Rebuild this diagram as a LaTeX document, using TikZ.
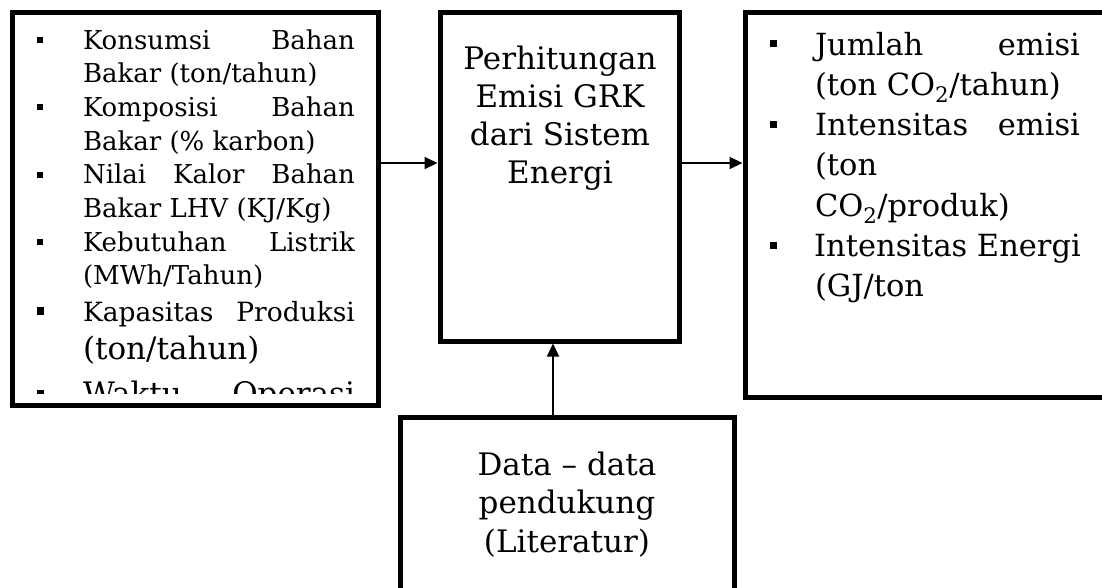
\documentclass[tikz,border=0pt]{standalone}
\usepackage{fontspec}
\setmainfont{DejaVu Serif}
\usetikzlibrary{arrows.meta}
\newlength{\twL}\setlength{\twL}{272pt}
\newlength{\twR}\setlength{\twR}{265pt}
\newcommand{\Bu}[3]{\leavevmode\llap{\raisebox{#2}{\rule{#1}{#1}}\hspace*{#3}}}
\newcommand{\fs}[2]{\fontsize{#1}{#2}\selectfont\spaceskip=0pt\xspaceskip=0pt\relax}
\begin{document}
\begin{tikzpicture}[x=1pt,y=-1pt,
  box/.style={draw=black, line width=5pt, inner sep=0pt, fill=white},
  txt/.style={inner sep=0pt, outer sep=0pt, align=left},
  ctxt/.style={inner sep=0pt, outer sep=0pt, align=center},
  arr/.style={line width=2pt, -{Triangle[length=13pt,width=12pt]}}]
\useasboundingbox (0,0) rectangle (1102,587);
\node[box, minimum width=366pt, minimum height=393pt] (inp) at (195,208.5) {};
\node[box, minimum width=239pt, minimum height=329pt] (calc) at (559.5,176.5) {};
\node[box, minimum width=370pt, minimum height=385pt] (out) at (930,204.5) {};
\node[box, minimum width=334pt, minimum height=183pt] (sup) at (567,508.5) {};
\begin{scope}
\clip (15,15) rectangle (375,393);
\node[txt, text width=\twL, anchor=base west] (inptext) at (83,49) {%
\fs{26pt}{33.7pt}%
\Bu{6pt}{6pt}{40pt}\makebox[\twL]{Konsumsi\hfill Bahan}\par
Bakar (ton/tahun)\par
\Bu{6pt}{6pt}{40pt}\makebox[\twL]{Komposisi\hfill Bahan}\par
Bakar (\% karbon)\par
\Bu{6pt}{6pt}{40pt}\makebox[\twL]{Nilai\hfill Kalor\hfill Bahan}\par
Bakar LHV (KJ/Kg)\par
\Bu{6pt}{6pt}{40pt}\makebox[\twL]{Kebutuhan\hfill Listrik}\par
(MWh/Tahun)\par
\fs{26.5pt}{37pt}%
\Bu{7.5pt}{7pt}{39pt}\makebox[\twL]{Kapasitas\hfill Produksi}\par
\fs{31pt}{38pt}%
(ton/tahun)\par
\fs{31pt}{45pt}%
\Bu{7.5pt}{7pt}{39pt}\makebox[\twL]{Waktu\hfill Operasi}\par};
\end{scope}
\node[ctxt, anchor=base, font=\fontsize{31pt}{38pt}\selectfont] (calctext) at (560,183)
  {Perhitungan\\Emisi GRK\\dari Sistem\\Energi};
\node[txt, text width=\twR, anchor=base west] (outtext) at (815,55) {%
\fs{30.5pt}{40.3pt}%
\Bu{7pt}{8pt}{38pt}\makebox[\twR]{Jumlah\hfill emisi}\par
(ton CO\textsubscript{2}/tahun)\par
\Bu{7pt}{8pt}{38pt}\makebox[\twR]{Intensitas\hfill emisi}\par
(ton\par
CO\textsubscript{2}/produk)\par
\Bu{7pt}{8pt}{38pt}\makebox[\twR]{Intensitas \hfill Energi}\par
(GJ/ton\par};
\node[ctxt, anchor=base, font=\fontsize{31pt}{38.5pt}\selectfont] (suptext) at (567,552)
  {Data -- data\\pendukung\\(Literatur)};
\coordinate (a1) at ([yshift=13.5pt]calc.west);
\coordinate (a2) at ([yshift=13.5pt]calc.east);
\coordinate (v) at ([xshift=-14pt]sup.north);
\draw[arr] (a1 -| inp.east) -- (a1);
\draw[arr] (a2) -- (a2 -| out.west);
\draw[arr] (v) -- (v |- calc.south);
\end{tikzpicture}
\end{document}
